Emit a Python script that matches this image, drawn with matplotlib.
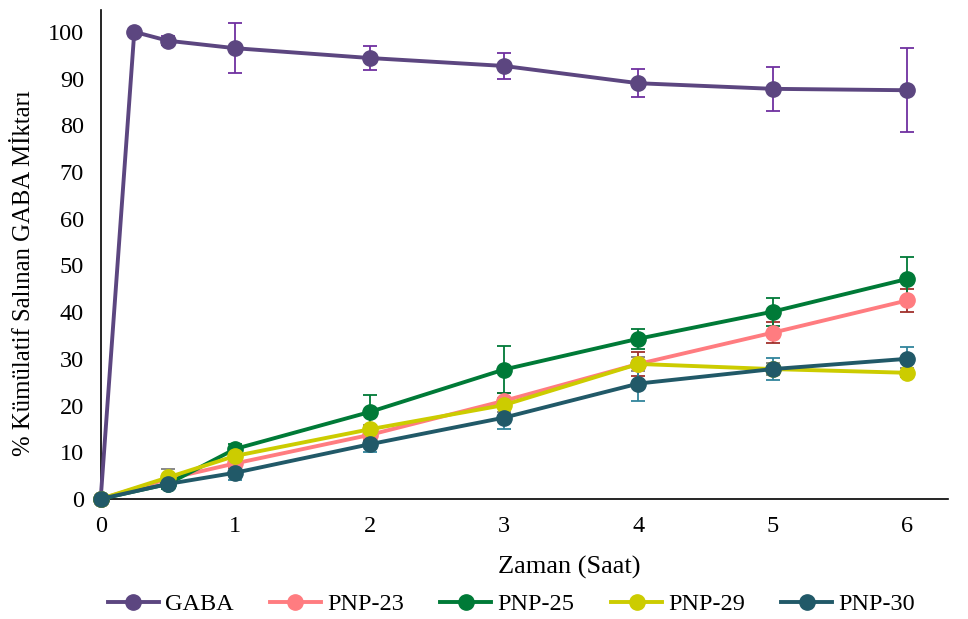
import matplotlib.pyplot as plt
from matplotlib.lines import Line2D

plt.rcParams['font.family'] = ['Liberation Serif', 'DejaVu Serif']

# GABA has an extra point at 0.25 h
gaba_t = [0, 0.25, 0.5, 1, 2, 3, 4, 5, 6]
gaba = [0, 100, 98.1, 96.5, 94.4, 92.7, 89.0, 87.8, 87.5]
gaba_err = [0, 0, 1.0, 5.4, 2.5, 2.7, 3.0, 4.7, 9.0]

t = [0, 0.5, 1, 2, 3, 4, 5, 6]
pnp23 = [0, 4.3, 7.6, 13.7, 21.0, 28.9, 35.6, 42.5]
pnp23_err = [0, 0.8, 1.0, 1.0, 1.6, 2.5, 2.3, 2.4]
pnp25 = [0, 3.2, 10.7, 18.6, 27.7, 34.3, 40.1, 47.1]
pnp25_err = [0, 1.0, 1.0, 3.7, 5.0, 2.1, 3.0, 4.7]
pnp29 = [0, 4.6, 9.2, 14.9, 20.1, 28.9, 27.8, 27.0]
pnp29_err = [0, 1.8, 1.0, 1.0, 1.5, 1.5, 1.2, 1.0]
pnp30 = [0, 3.2, 5.6, 11.7, 17.4, 24.7, 27.8, 30.0]
pnp30_err = [0, 0.8, 1.6, 1.6, 2.5, 3.8, 2.3, 2.6]

series = [
    ('GABA', gaba_t, gaba, gaba_err, '#5c4680', '#7030a0'),
    ('PNP-23', t, pnp23, pnp23_err, '#ff7c80', '#a0302c'),
    ('PNP-25', t, pnp25, pnp25_err, '#007a37', '#007a37'),
    ('PNP-29', t, pnp29, pnp29_err, '#cccc00', '#7f7f7f'),
    ('PNP-30', t, pnp30, pnp30_err, '#215968', '#31859c'),
]

fig = plt.figure(figsize=(9.68, 6.19), dpi=100)
ax = fig.add_axes([0.104, 0.194, 0.875, 0.79])

handles = []
for name, x, y, err, c, ec in series:
    ax.errorbar(x, y, yerr=err, color=c, ecolor=ec, elinewidth=1.3,
                capsize=5, capthick=1.3, lw=2.8, marker='o', ms=11,
                clip_on=False, zorder=3)
    handles.append(Line2D([], [], color=c, lw=2.8, marker='o', ms=11, label=name))

ax.set_xlim(0, 6.3)
ax.set_ylim(0, 104.7)
ax.set_xticks(range(0, 7))
ax.set_yticks(range(0, 101, 10))
ax.spines['top'].set_visible(False)
ax.spines['right'].set_visible(False)
ax.spines['left'].set_linewidth(1.2)
ax.spines['bottom'].set_linewidth(1.2)
ax.tick_params(labelsize=17.5, length=0, pad=12)
ax.set_xlabel('Zaman (Saat)', fontsize=19)
ax.set_ylabel('% Kümülatif Salınan GABA Mİktarı', fontsize=17.8)
ax.xaxis.set_label_coords(0.553, -0.116)
ax.yaxis.set_label_coords(-0.077, 0.462)

ax.legend(handles=handles, loc='center', bbox_to_anchor=(0.485, -0.215), ncol=5,
          frameon=False, fontsize=17.5, handlelength=2.1, columnspacing=1.5,
          handletextpad=0.25)

plt.savefig('out.png', dpi=100)
plt.close()
